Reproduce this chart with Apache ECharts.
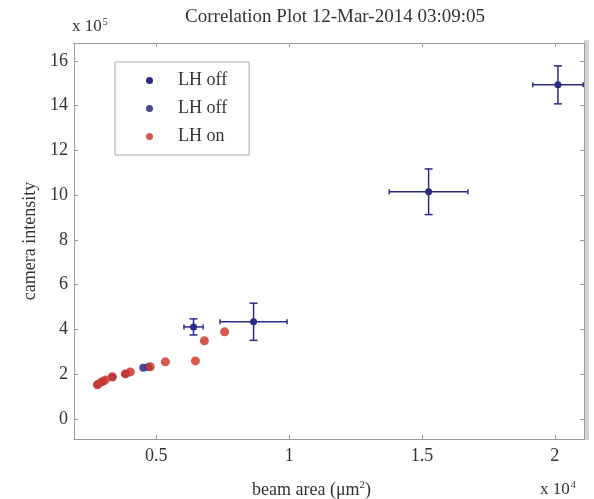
<!DOCTYPE html>
<html>
<head>
<meta charset="utf-8">
<script src="https://cdn.jsdelivr.net/npm/echarts@6/dist/echarts.min.js"></script>
<style>
  html, body { margin: 0; padding: 0; background: #fff; }
  #chart { width: 594px; height: 499px; }
</style>
</head>
<body>
<div id="chart"></div>
<script>
// Beam area in units of 1e4 um^2, camera intensity in units of 1e5 counts.

// LH off, averaged points with error bars
const offAvgX    = [2.012, 1.525, 0.866, 0.640];
const offAvgY    = [14.93, 10.15, 4.34, 4.11];
const offAvgXErr = [0.095, 0.148, 0.126, 0.036];
const offAvgYErr = [0.85, 1.02, 0.83, 0.36];

// LH off, individual shots
const offX = [0.280, 0.300, 0.335, 0.385, 0.451, 0.470];
const offY = [1.55, 1.68, 1.86, 2.02, 2.28, 2.32];

// LH on, individual shots
const onX = [0.278, 0.293, 0.308, 0.334, 0.383, 0.402, 0.477, 0.534, 0.647, 0.681, 0.757];
const onY = [1.52, 1.65, 1.74, 1.88, 2.01, 2.10, 2.33, 2.55, 2.59, 3.49, 3.89];

// Axis ticks
const xTicks = [0.5, 1, 1.5, 2];
const yTicks = [0, 2, 4, 6, 8, 10, 12, 14, 16];

const navy = '#2b2b87';
const navy2 = '#34348a';
const red = '#cf3a2e';
const serif = 'Liberation Serif, Times New Roman, serif';
const ink = '#333';
const fs = 18;

const chart = echarts.init(document.getElementById('chart'));

function zip(xs, ys) { return xs.map((x, i) => [x, ys[i]]); }

const errData = offAvgX.map((x, i) => [x, offAvgY[i], offAvgXErr[i], offAvgYErr[i]]);

const axisCommon = {
  type: 'value',
  splitLine: { show: false },
  axisLine: { show: true, onZero: false, lineStyle: { color: '#9a9a9a', width: 1 } },
  axisTick: { show: true, inside: true, length: 4, lineStyle: { color: '#9a9a9a' } },
  axisLabel: { color: ink, fontFamily: serif, fontSize: fs }
};

chart.setOption({
  animation: false,
  backgroundColor: '#fff',
  title: {
    text: 'Correlation Plot 12-Mar-2014 03:09:05',
    left: 330, top: 3, textAlign: 'center',
    textStyle: { fontFamily: serif, fontSize: fs + 1, fontWeight: 'normal', color: ink }
  },
  grid: { left: 74, right: 10, top: 43, bottom: 60 },
  legend: {
    orient: 'vertical',
    left: 115, top: 62,
    padding: [8, 22, 8, 31],
    itemGap: 7,
    itemWidth: 7, itemHeight: 7,
    backgroundColor: '#fff',
    borderColor: '#aaa', borderWidth: 1,
    borderRadius: 0,
    textStyle: { fontFamily: serif, fontSize: fs, color: ink, padding: [0, 0, 0, 20], lineHeight: 21 },
    formatter: name => name.trim(),
    data: [
      { name: 'LH off', icon: 'circle', itemStyle: { color: navy } },
      { name: 'LH off ', icon: 'circle', itemStyle: { color: navy2 } },
      { name: 'LH on', icon: 'circle', itemStyle: { color: red } }
    ]
  },
  xAxis: [
    Object.assign({}, axisCommon, {
      min: 0.19, max: 2.11,
      axisTick: Object.assign({}, axisCommon.axisTick, { customValues: xTicks }),
      axisLabel: Object.assign({}, axisCommon.axisLabel, { customValues: xTicks, margin: 8 })
    }),
    Object.assign({}, axisCommon, {
      position: 'top',
      min: 0.19, max: 2.11,
      axisTick: Object.assign({}, axisCommon.axisTick, { customValues: xTicks }),
      axisLabel: { show: false }
    })
  ],
  yAxis: [
    Object.assign({}, axisCommon, {
      min: -0.9, max: 16.8,
      name: 'camera intensity',
      nameLocation: 'middle',
      nameGap: 35,
      nameTextStyle: { fontFamily: serif, fontSize: fs, color: ink },
      axisTick: Object.assign({}, axisCommon.axisTick, { customValues: yTicks }),
      axisLabel: Object.assign({}, axisCommon.axisLabel, { customValues: yTicks, margin: 6 })
    }),
    Object.assign({}, axisCommon, {
      position: 'right',
      min: -0.9, max: 16.8,
      axisTick: Object.assign({}, axisCommon.axisTick, { customValues: yTicks }),
      axisLabel: { show: false }
    })
  ],
  series: [
    {
      name: 'LH off',
      type: 'custom',
      xAxisIndex: 0, yAxisIndex: 0,
      data: errData,
      z: 5,
      renderItem: function (params, api) {
        const x = api.value(0), y = api.value(1);
        const dx = api.value(2), dy = api.value(3);
        const c = api.coord([x, y]);
        const l = api.coord([x - dx, y]);
        const r = api.coord([x + dx, y]);
        const t = api.coord([x, y + dy]);
        const b = api.coord([x, y - dy]);
        const cap = 4, capV = 2.5;
        const st = { stroke: navy, lineWidth: 1.5 };
        return {
          type: 'group',
          children: [
            { type: 'line', shape: { x1: l[0], y1: l[1], x2: r[0], y2: r[1] }, style: st },
            { type: 'line', shape: { x1: t[0], y1: t[1], x2: b[0], y2: b[1] }, style: st },
            { type: 'line', shape: { x1: t[0] - cap, y1: t[1], x2: t[0] + cap, y2: t[1] }, style: st },
            { type: 'line', shape: { x1: b[0] - cap, y1: b[1], x2: b[0] + cap, y2: b[1] }, style: st },
            { type: 'line', shape: { x1: l[0], y1: l[1] - capV, x2: l[0], y2: l[1] + capV }, style: st },
            { type: 'line', shape: { x1: r[0], y1: r[1] - capV, x2: r[0], y2: r[1] + capV }, style: st },
            { type: 'circle', shape: { cx: c[0], cy: c[1], r: 3.5 }, style: { fill: navy } }
          ]
        };
      }
    },
    {
      name: 'LH off ',
      type: 'scatter',
      data: zip(offX, offY),
      symbol: 'circle',
      symbolSize: 8,
      itemStyle: { color: navy2, opacity: 0.9 },
      z: 3
    },
    {
      name: 'LH on',
      type: 'scatter',
      data: zip(onX, onY),
      symbol: 'circle',
      symbolSize: 9,
      itemStyle: { color: red, opacity: 0.85 },
      z: 4
    }
  ],
  graphic: [
    {
      type: 'rect',
      shape: { x: 584, y: 40, width: 5, height: 400 },
      style: { fill: '#d4d4d4' },
      z: -1
    },
    {
      type: 'text',
      left: 72, top: 17,
      style: {
        text: 'x 10{s|5}',
        rich: { s: { fontSize: 10, padding: [0, 0, 10, 1], fontFamily: serif, fill: ink } },
        fontFamily: serif, fontSize: fs - 1, fill: ink
      }
    },
    {
      type: 'text',
      left: 252, top: 480,
      style: {
        text: 'beam area (\u03bcm{s|2})',
        rich: { s: { fontSize: 11, padding: [0, 0, 10, 0], fontFamily: serif, fill: ink } },
        fontFamily: serif, fontSize: fs, fill: ink
      }
    },
    {
      type: 'text',
      left: 540, top: 480,
      style: {
        text: 'x 10{s|4}',
        rich: { s: { fontSize: 10, padding: [0, 0, 10, 1], fontFamily: serif, fill: ink } },
        fontFamily: serif, fontSize: fs - 1, fill: ink
      }
    }
  ]
});
</script>
</body>
</html>
